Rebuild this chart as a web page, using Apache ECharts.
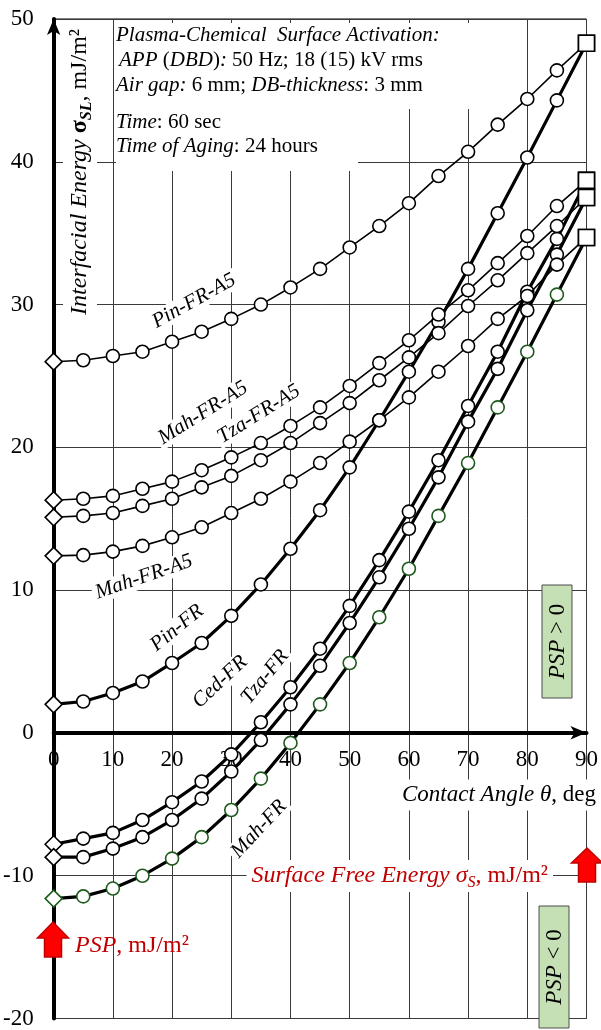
<!DOCTYPE html>
<html>
<head>
<meta charset="utf-8">
<script src="https://cdn.jsdelivr.net/npm/echarts@6/dist/echarts.min.js"></script>
<style>
  html, body { margin: 0; padding: 0; background: #fff; }
  #chart { width: 601px; height: 1030px; }
</style>
</head>
<body>
<div id="chart"></div>
<script>
// contact angle, deg
var angles = [0, 5, 10, 15, 20, 25, 30, 35, 40, 45, 50, 55, 60, 65, 70, 75, 80, 85, 90];

// interfacial energy, mJ/m2
var pinFrA5    = [26.0, 26.1, 26.4, 26.7, 27.4, 28.1, 29.0, 30.0, 31.2, 32.5, 34.0, 35.5, 37.1, 39.0, 40.7, 42.6, 44.4, 46.4, 48.3];
var mahFrA5up  = [16.3, 16.4, 16.6, 17.1, 17.6, 18.4, 19.3, 20.3, 21.5, 22.8, 24.3, 25.9, 27.5, 29.3, 31.0, 32.9, 34.8, 36.9, 38.7];
var tzaFrA5    = [15.1, 15.2, 15.4, 15.9, 16.4, 17.2, 18.0, 19.1, 20.3, 21.7, 23.1, 24.7, 26.3, 28.0, 29.9, 31.7, 33.6, 35.5, 37.5];
var mahFrA5low = [12.4, 12.45, 12.7, 13.1, 13.7, 14.4, 15.4, 16.4, 17.6, 18.9, 20.4, 21.9, 23.5, 25.3, 27.1, 29.0, 30.6, 32.8, 34.7];
var pinFr      = [2.0, 2.2, 2.8, 3.6, 4.9, 6.3, 8.2, 10.4, 12.9, 15.6, 18.6, 21.9, 25.3, 28.8, 32.5, 36.4, 40.3, 44.3, 48.3];
var cedFr      = [-7.8, -7.4, -7.0, -6.1, -4.85, -3.4, -1.5, 0.75, 3.2, 5.9, 8.9, 12.1, 15.5, 19.1, 22.9, 26.7, 30.9, 34.6, 38.7];
var tzaFr      = [-8.7, -8.7, -8.1, -7.3, -6.1, -4.6, -2.7, -0.5, 2.0, 4.7, 7.7, 10.9, 14.3, 17.9, 21.8, 25.5, 29.6, 33.5, 37.5];
var mahFr      = [-11.6, -11.45, -10.9, -10.0, -8.8, -7.3, -5.4, -3.2, -0.7, 2.0, 4.9, 8.1, 11.5, 15.2, 18.9, 22.8, 26.7, 30.7, 34.7];

var xTicks = ['0', '10', '20', '30', '40', '50', '60', '70', '80', '90'];

var serif = "'Liberation Serif', 'Times New Roman', serif";
var green = '#1e5a1e';
var red = '#c00000';

var yMin = -20, yMax = 50;
var gridTop = 19, gridBottom = 11, H = 1030;

function mkData(vals) {
  return vals.map(function (v, i) {
    var item = { value: [angles[i], v] };
    if (i === 0) {
      item.symbol = 'diamond'; item.symbolSize = 17;
    } else if (i === vals.length - 1) {
      item.symbol = 'rect'; item.symbolSize = 16;
      item.itemStyle = { borderColor: '#000' };
    }
    return item;
  });
}

function mkSeries(name, vals, width, mcolor) {
  return {
    name: name,
    type: 'line',
    data: mkData(vals),
    symbol: 'circle',
    symbolSize: 13,
    showAllSymbol: true,
    lineStyle: { color: '#000', width: width },
    itemStyle: { color: '#fff', borderColor: mcolor || '#000', borderWidth: 1.6 },
    emphasis: { disabled: true },
    z: width > 2 ? 3 : 4
  };
}

function f(size, style, weight, color) {
  return { fontFamily: serif, fontSize: size, fontStyle: style || 'normal',
           fontWeight: weight || 'normal', fill: color || '#000', color: color || '#000' };
}
function richSet(size, color) {
  var r = {
    i: f(size, 'italic', 'normal', color),
    n: f(size, 'normal', 'normal', color),
    b: f(size, 'normal', 'bold', color),
    s: f(Math.round(size * 0.68), 'italic', 'normal', color),
    sb: f(Math.round(size * 0.68), 'italic', 'bold', color)
  };
  for (var k in r) { r[k].lineHeight = size + 6; }
  r.s.lineHeight = Math.round(size * 0.68); r.s.verticalAlign = 'bottom';
  r.sb.lineHeight = Math.round(size * 0.68); r.sb.verticalAlign = 'bottom';
  return r;
}

// rotated italic label on a curve
function curveLabel(x, y, deg, text) {
  return {
    type: 'text', x: x, y: y, rotation: deg * Math.PI / 180, z: 1,
    style: {
      text: text, fontFamily: serif, fontSize: 21, fontStyle: 'italic', fill: '#000',
      align: 'center', verticalAlign: 'middle', backgroundColor: '#fff', padding: [0, 3]
    }
  };
}

function richText(x, y, rot, text, size, color, align, bg, pad) {
  return {
    type: 'text', x: x, y: y, rotation: rot, z: 1,
    style: {
      text: text, rich: richSet(size, color), fontFamily: serif, fontSize: size,
      fill: color || '#000',
      align: align || 'left', verticalAlign: 'middle',
      backgroundColor: bg || 'transparent', padding: pad || 0
    }
  };
}

function upArrow(cx, top, headBase, bottom) {
  return {
    type: 'polygon', z: 5,
    shape: { points: [[cx, top], [cx + 15.5, headBase], [cx + 8.5, headBase], [cx + 8.5, bottom],
                      [cx - 8.5, bottom], [cx - 8.5, headBase], [cx - 15.5, headBase]] },
    style: { fill: '#ff0000', stroke: red, lineWidth: 1.5 }
  };
}

function pspBox(x, y, w, h, text) {
  return [{
    type: 'rect', z: 5, shape: { x: x, y: y, width: w, height: h },
    style: { fill: '#c5e0b4', stroke: '#4d4d4d', lineWidth: 1 }
  }, {
    type: 'text', z: 6, x: x + w / 2 + 1, y: y + h / 2, rotation: Math.PI / 2,
    style: { text: text, rich: richSet(23), align: 'center', verticalAlign: 'middle' }
  }];
}

// pull the x axis up from the grid bottom to y = 0
var plotH = H - gridTop - gridBottom;
var zeroOffset = -plotH * (0 - yMin) / (yMax - yMin);

var chart = echarts.init(document.getElementById('chart'));

var option = {
  backgroundColor: '#fff',
  animation: false,
  grid: { left: 53, right: 14, top: gridTop, bottom: gridBottom, show: true, borderColor: '#000', borderWidth: 1 },
  xAxis: {
    type: 'value', min: 0, max: 90, interval: 10,
    position: 'bottom', offset: zeroOffset,
    axisLine: { onZero: false, lineStyle: { color: '#000', width: 4 }, symbol: ['none', 'arrow'], symbolSize: [10, 16] },
    axisTick: { show: false },
    axisLabel: { fontFamily: serif, fontSize: 23, color: '#000', margin: 16,
      formatter: function (v) { return xTicks[v / 10]; } },
    splitLine: { show: true, lineStyle: { color: '#3a3a3a', width: 1 } }
  },
  yAxis: {
    type: 'value', min: yMin, max: yMax, interval: 10,
    axisLine: { lineStyle: { color: '#000', width: 4 }, symbol: ['none', 'arrow'], symbolSize: [10, 16] },
    axisTick: { show: false },
    axisLabel: { fontFamily: serif, fontSize: 23, color: '#000', margin: 20 },
    splitLine: { show: true, lineStyle: { color: '#3a3a3a', width: 1 } }
  },
  series: [
    mkSeries('Pin-FR-A5', pinFrA5, 1.6),
    mkSeries('Mah-FR-A5', mahFrA5up, 1.6),
    mkSeries('Tza-FR-A5', tzaFrA5, 1.6),
    mkSeries('Mah-FR-A5 (2)', mahFrA5low, 1.6),
    mkSeries('Pin-FR', pinFr, 3.2),
    mkSeries('Ced-FR', cedFr, 3.2),
    mkSeries('Tza-FR', tzaFr, 3.2),
    mkSeries('Mah-FR', mahFr, 3.2, green)
  ],
  graphic: { elements: [] }
};

var g = option.graphic.elements;

// conditions block
g.push({ type: 'rect', z: 1, shape: { x: 116, y: 23, width: 354, height: 86 }, style: { fill: '#fff' } });
g.push({ type: 'rect', z: 1, shape: { x: 116, y: 105, width: 242, height: 66 }, style: { fill: '#fff' } });
g.push(richText(116, 35, 0, '{i|Plasma-Chemical  Surface Activation:}', 21));
g.push(richText(119, 60, 0, '{i|APP}{n| (}{i|DBD}{n|)}{i|:}{n| 50 Hz; 18 (15) kV rms}', 21));
g.push(richText(116, 85, 0, '{i|Air gap:}{n| 6 mm; }{i|DB-thickness}{n|: 3 mm}', 21));
g.push(richText(116, 122, 0, '{i|Time}{n|: 60 sec}', 21));
g.push(richText(116, 146, 0, '{i|Time of Aging}{n|: 24 hours}', 21));

// axis titles
g.push(richText(80, 172, Math.PI / 2, '{i|Interfacial Energy }{b|σ}{sb|SL}{n|, mJ/m²}', 24, '#000', 'center', '#fff', [2, 6]));
g.push(richText(599, 795, 0, '{i|Contact Angle θ}{n|, deg}', 23, '#000', 'right', '#fff', [1, 3]));
g.push(richText(553, 876, 0, '{i|Surface Free Energy σ}{s|S}{n|, mJ/m²}', 24, red, 'right', '#fff', [1, 5]));
g.push(richText(75, 946, 0, '{i|PSP}{n|, mJ/m²}', 24, red, 'left'));

// curve labels
g.push(curveLabel(194, 301, 29, 'Pin-FR-A5'));
g.push(curveLabel(203, 413, 32, 'Mah-FR-A5'));
g.push(curveLabel(259, 414, 32, 'Tza-FR-A5'));
g.push(curveLabel(144, 577, 19, 'Mah-FR-A5'));
g.push(curveLabel(177, 628, 39, 'Pin-FR'));
g.push(curveLabel(220, 682, 43, 'Ced-FR'));
g.push(curveLabel(265, 677, 51, 'Tza-FR'));
g.push(curveLabel(259, 829, 47, 'Mah-FR'));

// arrows and PSP boxes
g.push(upArrow(53, 922, 938, 957));
g.push(upArrow(587, 848, 863, 882));
pspBox(542, 585, 30, 113, '{i|PSP}{n| > 0}').forEach(function (e) { g.push(e); });
pspBox(539, 906, 30, 122, '{i|PSP}{n| < 0}').forEach(function (e) { g.push(e); });

chart.setOption(option);
</script>
</body>
</html>
